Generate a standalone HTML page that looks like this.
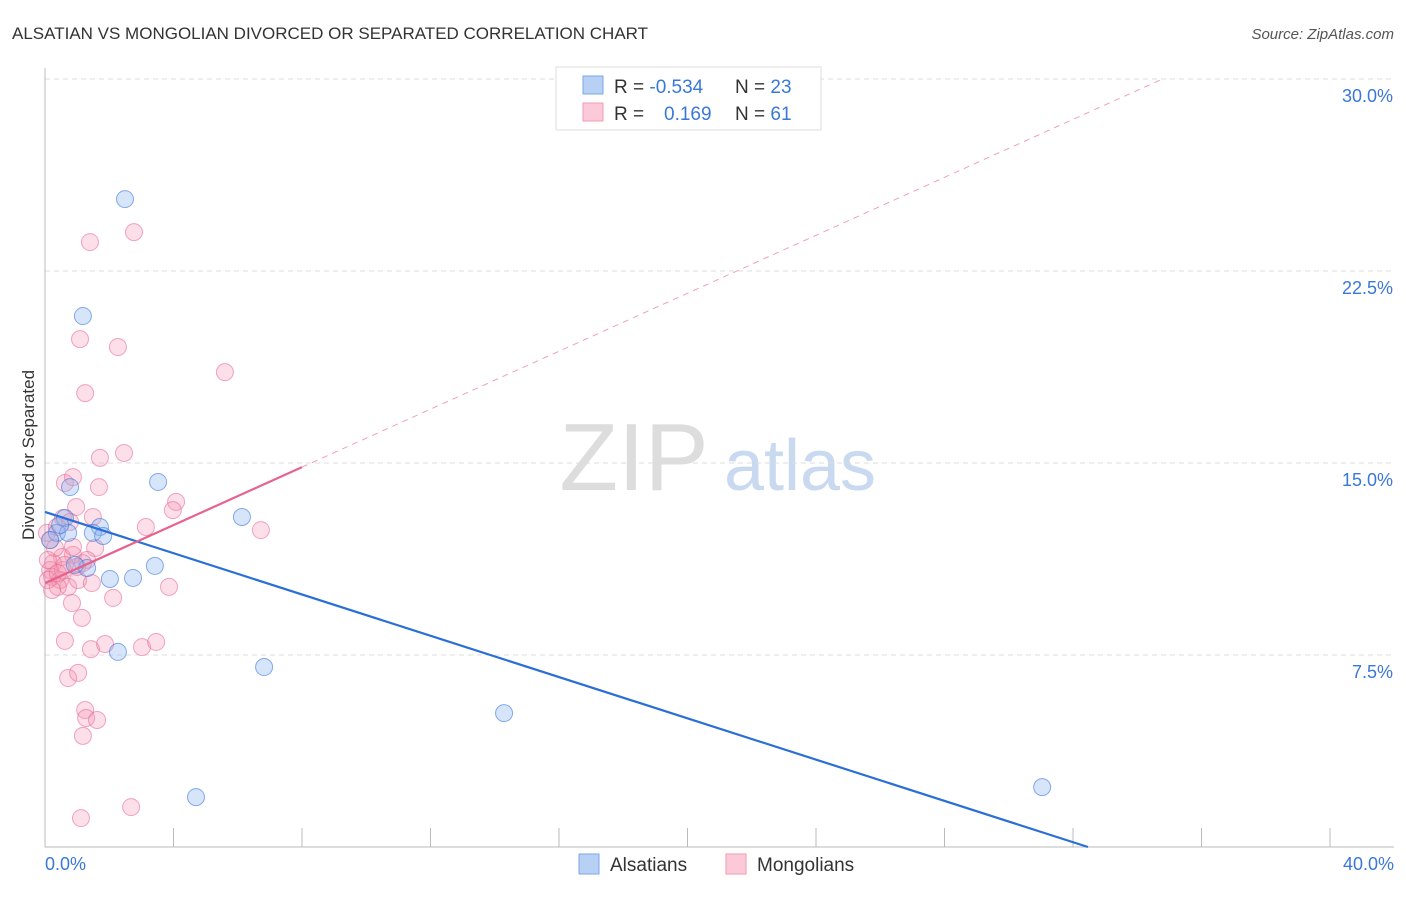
<!DOCTYPE html>
<html><head><meta charset="utf-8"><style>
body{margin:0;background:#fff;font-family:"Liberation Sans",sans-serif}
svg text{font-family:"Liberation Sans",sans-serif}
</style></head><body>
<svg id="c" width="1406" height="892">
<text x="12" y="39" font-size="17" fill="#333">ALSATIAN VS MONGOLIAN DIVORCED OR SEPARATED CORRELATION CHART</text>
<text x="1394" y="39" font-size="15" fill="#555" font-style="italic" text-anchor="end">Source: ZipAtlas.com</text>
<g><text x="634" y="490" font-size="96" fill="#ddd" font-family="Liberation Serif" text-anchor="middle">ZIP</text><text x="800" y="490" font-size="72" fill="#c9d9f0" text-anchor="middle">atlas</text></g>
<g id="grid"></g><g id="axes"></g><g id="marks"></g>
<text transform="translate(34,455) rotate(-90)" font-size="17" fill="#333" text-anchor="middle">Divorced or Separated</text>
<text x="45" y="870" font-size="18" fill="#3a78d8">0.0%</text>
<text x="1394" y="870" font-size="18" fill="#3a78d8" text-anchor="end">40.0%</text>
<g>
<rect x="556" y="67" width="265" height="63" fill="#fff" stroke="#ddd"/>
<rect x="583" y="76" width="20" height="18" fill="#b8d0f4" stroke="#7aa7e8"/>
<rect x="583" y="103" width="20" height="18" fill="#fbc9d8" stroke="#f09ab5"/>
<text x="614" y="93" font-size="19" fill="#333">R = <tspan fill="#3a78d8">-0.534</tspan></text>
<text x="735" y="93" font-size="19" fill="#333">N = <tspan fill="#3a78d8">23</tspan></text>
<text x="614" y="120" font-size="19" fill="#333">R = <tspan fill="#3a78d8" x="664">0.169</tspan></text>
<text x="735" y="120" font-size="19" fill="#333">N = <tspan fill="#3a78d8">61</tspan></text>
</g>
<g>
<rect x="579" y="854" width="20" height="20" fill="#b8d0f4" stroke="#7aa7e8"/><text x="610" y="871" font-size="19" fill="#333">Alsatians</text>
<rect x="726" y="854" width="20" height="20" fill="#fbc9d8" stroke="#f09ab5"/><text x="757" y="871" font-size="19" fill="#333">Mongolians</text>
</g>
</svg>
<script>
const yTicks=[7.5,15,22.5,30];
const yTickLabels=["7.5%","15.0%","22.5%","30.0%"];
const xTicks=[0,4,8,12,16,20,24,28,32,36,40];
const blueX=[2.49,1.18,0.78,3.52,6.13,0.62,1.71,1.49,1.81,0.37,0.16,0.72,1.31,0.93,3.42,2.02,2.74,2.27,6.82,14.29,4.70,31.04,0.47];
const blueY=[25.31,20.74,14.06,14.26,12.89,12.85,12.50,12.27,12.15,12.27,11.99,12.27,10.90,11.02,10.98,10.47,10.51,7.62,7.03,5.23,1.95,2.34,12.58];
const pinkX=[1.40,2.77,1.09,2.27,5.60,1.25,2.46,1.71,0.62,0.87,1.68,0.97,1.49,0.56,0.78,4.08,3.98,3.14,6.72,1.56,0.87,0.53,0.25,0.16,0.22,0.47,0.72,0.40,1.31,1.03,1.46,3.86,2.12,0.84,1.15,0.62,1.43,1.87,3.02,3.46,0.72,1.03,1.25,1.28,1.62,1.18,2.68,1.12,0.06,0.16,0.37,0.87,0.56,0.09,1.00,1.18,0.31,0.62,0.09,0.40,0.22];
const pinkY=[23.63,24.02,19.84,19.53,18.55,17.73,15.39,15.20,14.22,14.45,14.06,13.28,12.89,12.85,12.70,13.48,13.16,12.50,12.38,11.68,11.41,11.33,11.09,10.82,10.55,10.43,10.16,10.16,11.21,10.43,10.31,10.16,9.73,9.53,8.95,8.05,7.73,7.93,7.81,8.01,6.60,6.80,5.35,5.04,4.96,4.34,1.56,1.13,12.27,11.99,12.50,11.72,10.82,10.43,10.94,11.09,11.68,11.02,11.21,10.70,10.04];
const blueTrend=[13.09,-0.4032]; // intercept, slope
const pinkTrend=[10.31,0.566];
const X=v=>45+v/40*1285, Y=v=>847-v/7.5*192;
const NS="http://www.w3.org/2000/svg";
function mk(p,t,a){const e=document.createElementNS(NS,t);for(const k in a)e.setAttribute(k,a[k]);document.getElementById(p).appendChild(e);return e;}
yTicks.forEach((t,i)=>{
 const l=mk('grid','line',{x1:45,x2:1394,y1:Y(t),y2:Y(t),stroke:'#ddd','stroke-dasharray':'5,4'});
 
 
 const tx=mk('grid','text',{x:1393,y:Y(t)+23,'font-size':18,fill:'#3a78d8','text-anchor':'end'});tx.textContent=yTickLabels[i];
 
 
});
const ax=mk('axes','path',{d:'M45 68V847H1394',stroke:'#bbb',fill:'none'});


xTicks.forEach(t=>{const l=mk('axes','line',{x1:X(t),x2:X(t),y1:828,y2:847,stroke:'#bbb'});
 
 });
pinkX.forEach((v,i)=>{const c=mk('marks','circle',{cx:X(v),cy:Y(pinkY[i]),r:8.5,fill:'rgba(244,150,180,0.3)',stroke:'rgba(232,110,150,0.6)'});
 
 });
blueX.forEach((v,i)=>{const c=mk('marks','circle',{cx:X(v),cy:Y(blueY[i]),r:8.5,fill:'rgba(140,180,240,0.35)',stroke:'rgba(60,120,220,0.6)'});
 
 });
const bx2=-blueTrend[0]/blueTrend[1];
const bl=mk('marks','line',{x1:X(0),y1:Y(blueTrend[0]),x2:X(bx2),y2:Y(0),stroke:'#2a6fd6','stroke-width':2.2});


const pl=mk('marks','line',{x1:X(0),y1:Y(pinkTrend[0]),x2:X(8),y2:Y(pinkTrend[0]+8*pinkTrend[1]),stroke:'#e8628e','stroke-width':2.2});


const pxEnd=(30-pinkTrend[0])/pinkTrend[1];
const pd=mk('marks','line',{x1:X(8),y1:Y(pinkTrend[0]+8*pinkTrend[1]),x2:X(pxEnd),y2:Y(30),stroke:'#f0a0ba','stroke-width':1,'stroke-dasharray':'6,5'});


</script>
</body></html>
